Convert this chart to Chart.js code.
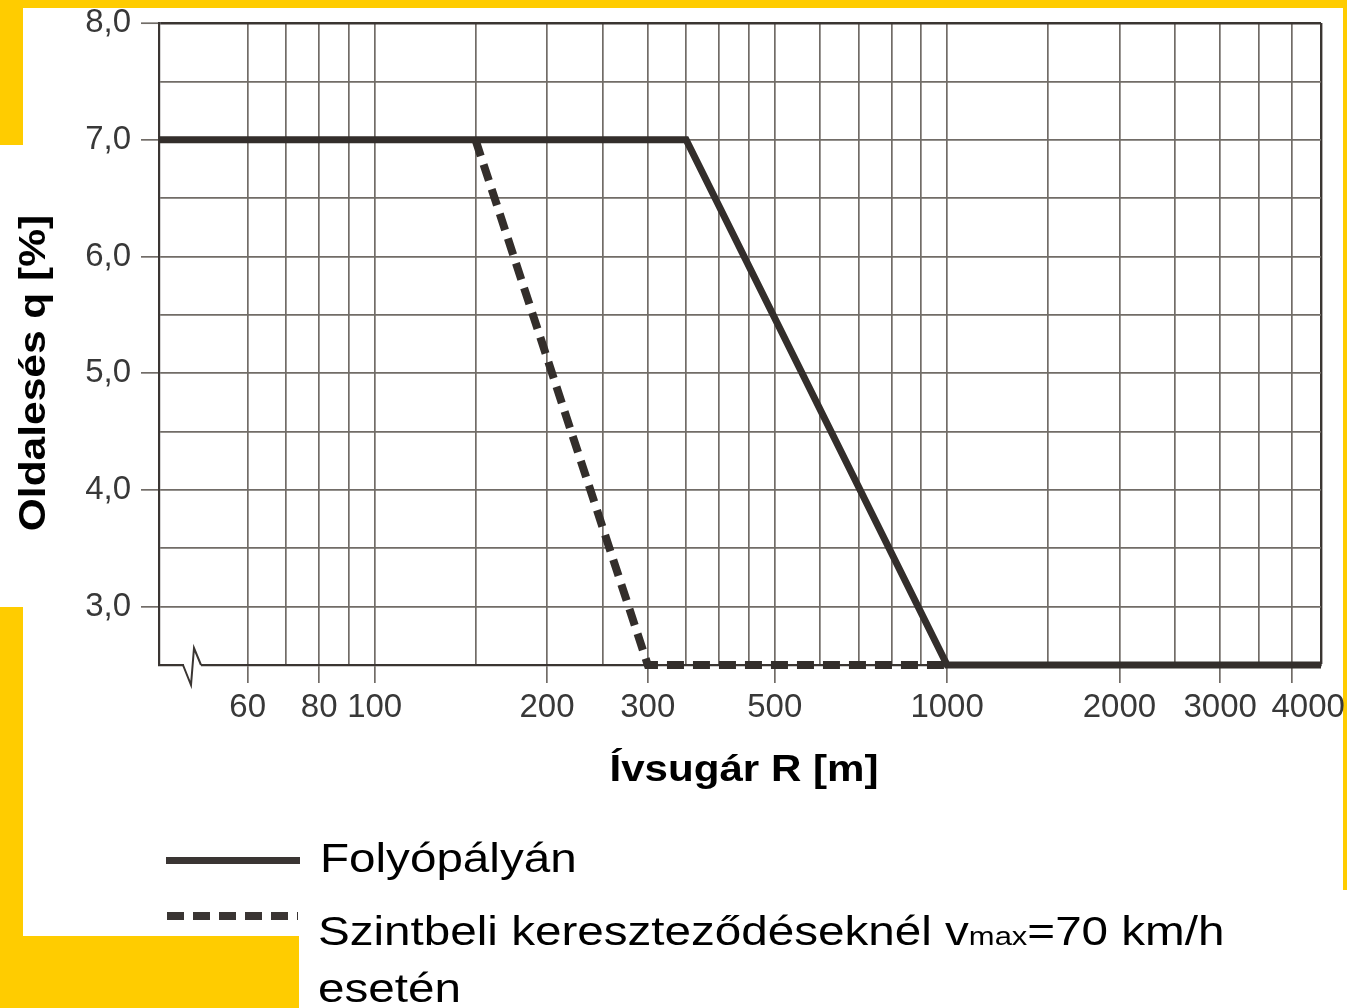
<!DOCTYPE html>
<html>
<head>
<meta charset="utf-8">
<script src="https://cdn.jsdelivr.net/npm/chart.js@4.4.1/dist/chart.umd.min.js"></script>
<style>
  body { margin: 0; background: #fff; }
  #wrap { position: relative; width: 1347px; height: 1008px; overflow: hidden; background: #fff; }
  .yel { position: absolute; background: #ffcc00; }
  #c { position: absolute; left: 0; top: 0; }
  .leg { position: absolute; font-family: "Liberation Sans", Arial, sans-serif; font-size: 40px; line-height: 40px;
         color: #000; white-space: nowrap; transform: scaleX(1.19); transform-origin: left center; }
  .sample { position: absolute; }
</style>
</head>
<body>
<div id="wrap">
  <div class="yel" style="left:0;top:0;width:1347px;height:8px"></div>
  <div class="yel" style="left:0;top:0;width:23px;height:145px"></div>
  <div class="yel" style="left:0;top:607px;width:23px;height:329px"></div>
  <div class="yel" style="left:0;top:936px;width:299px;height:72px"></div>
  <div class="yel" style="left:1343px;top:0;width:4px;height:890px"></div>
  <canvas id="c" width="1347" height="1008"></canvas>
  <div class="sample" style="left:166px;top:857px;width:134px;height:7px;background:#3a3533"></div>
  <div class="sample" style="left:167px;top:912px;width:131px;height:8px;
       background:repeating-linear-gradient(90deg,#3a3533 0 17px,transparent 17px 26px)"></div>
  <div class="leg" style="left:320px;top:838px">Folyópályán</div>
  <div class="leg" style="left:318px;top:911px">Szintbeli kereszteződéseknél v<span style="font-size:26px">max</span>=70 km/h</div>
  <div class="leg" style="left:318px;top:968px">esetén</div>
</div>
<script>
// x: ívsugár R [m], log scale
const gridValues = [60, 70, 80, 90, 100, 150, 200, 250, 300, 350, 400, 450, 500,
  600, 700, 800, 900, 1000, 1500, 2000, 2500, 3000, 3500, 4000];
const labeledValues = [60, 80, 100, 200, 300, 500, 1000, 2000, 3000, 4000];
const xMin = 42;
const xMax = 4500;

// y: oldalesés q [%]
const yMin = 2.5;
const yMax = 8.0;

// Folyópályán
const folyoR = [42, 350, 1000, 4500];
const folyoQ = [7.0, 7.0, 2.5, 2.5];

// Szintbeli kereszteződéseknél vmax=70 km/h esetén
const szintR = [150, 300, 1000];
const szintQ = [7.0, 2.5, 2.5];

const lineColor = '#332e2b';
const gridColor = '#716c67';
const frameColor = '#3a3532';
const tickFont = { family: '"Liberation Sans", Arial, sans-serif', size: 33 };

const toPoints = (xs, ys) => xs.map((x, i) => ({ x, y: ys[i] }));

// 4000 sits a little right of its grid line so it clears 3000
const tickText = v => {
  if (!labeledValues.includes(v)) return '';
  return v === 4000 ? '\u2002\u2002' + v : String(v);
};

const extras = {
  id: 'extras',
  afterDraw(chart) {
    const ctx = chart.ctx;
    const area = chart.chartArea;
    // axis break on the x axis
    ctx.save();
    ctx.fillStyle = '#fff';
    ctx.fillRect(184, area.bottom - 3, 17, 6);
    ctx.strokeStyle = frameColor;
    ctx.lineWidth = 2;
    ctx.beginPath();
    ctx.moveTo(183, area.bottom);
    ctx.lineTo(191, area.bottom + 20);
    ctx.lineTo(194, area.bottom - 17);
    ctx.lineTo(201, area.bottom);
    ctx.stroke();
    ctx.restore();

    // axis titles
    ctx.save();
    ctx.fillStyle = '#000';
    ctx.font = 'bold 36px "Liberation Sans", Arial, sans-serif';
    ctx.textAlign = 'center';
    ctx.textBaseline = 'middle';
    ctx.translate(744, 771);
    ctx.scale(1.17, 1);
    ctx.fillText('Ívsugár R [m]', 0, 0);
    ctx.restore();

    ctx.save();
    ctx.fillStyle = '#000';
    ctx.font = 'bold 36px "Liberation Sans", Arial, sans-serif';
    ctx.textAlign = 'center';
    ctx.textBaseline = 'middle';
    ctx.translate(35, 373);
    ctx.rotate(-Math.PI / 2);
    ctx.scale(1.18, 1);
    ctx.fillText('Oldalesés q [%]', 0, 0);
    ctx.restore();
  }
};

new Chart(document.getElementById('c').getContext('2d'), {
  type: 'line',
  data: {
    datasets: [
      {
        label: 'Folyópályán',
        data: toPoints(folyoR, folyoQ),
        borderColor: lineColor,
        borderWidth: 7,
        borderJoinStyle: 'miter',
        borderCapStyle: 'butt',
        pointRadius: 0,
        tension: 0,
        clip: 10,
        order: 0
      },
      {
        label: 'Szintbeli kereszteződéseknél vmax=70 km/h esetén',
        data: toPoints(szintR, szintQ),
        borderColor: lineColor,
        borderWidth: 8,
        borderDash: [17, 9],
        borderCapStyle: 'butt',
        pointRadius: 0,
        tension: 0,
        clip: 10,
        order: 1
      }
    ]
  },
  options: {
    responsive: false,
    animation: false,
    devicePixelRatio: 1,
    layout: { padding: { left: 0, top: 23, right: 26, bottom: 283 } },
    plugins: { legend: { display: false }, tooltip: { enabled: false } },
    scales: {
      x: {
        type: 'logarithmic',
        min: xMin,
        max: xMax,
        afterBuildTicks: s => {
          s.ticks = [...gridValues, xMax].map(v => ({ value: v }));
        },
        afterFit: s => {
          s.height = 60;
          s.paddingLeft = 0;
          s.paddingRight = 0;
        },
        ticks: {
          autoSkip: false,
          maxRotation: 0,
          padding: 5,
          font: tickFont,
          color: '#383838',
          callback: tickText
        },
        grid: {
          color: c => (c.tick && c.tick.value === xMax) ? frameColor : gridColor,
          lineWidth: c => (c.tick && c.tick.value === xMax) ? 2.4 : 1.7,
          tickLength: 18,
          tickColor: c => (c.tick && labeledValues.includes(c.tick.value)) ? gridColor : 'rgba(0,0,0,0)',
          tickWidth: 1.7
        },
        border: { display: true, color: frameColor, width: 2.2 }
      },
      y: {
        type: 'linear',
        min: yMin,
        max: yMax,
        afterFit: s => {
          s.width = 159;
          s.paddingTop = 0;
          s.paddingBottom = 0;
        },
        ticks: {
          stepSize: 0.5,
          padding: 10,
          font: tickFont,
          color: '#383838',
          callback: v => Number.isInteger(v) ? v.toFixed(1).replace('.', ',') : ''
        },
        grid: {
          color: c => (c.tick && c.tick.value === yMax) ? frameColor : gridColor,
          lineWidth: c => (c.tick && c.tick.value === yMax) ? 2.4 : 1.7,
          tickLength: 18,
          tickColor: c => (c.tick && Number.isInteger(c.tick.value)) ? gridColor : 'rgba(0,0,0,0)',
          tickWidth: 1.7
        },
        border: { display: true, color: frameColor, width: 2.2 }
      }
    }
  },
  plugins: [extras]
});
</script>
</body>
</html>
